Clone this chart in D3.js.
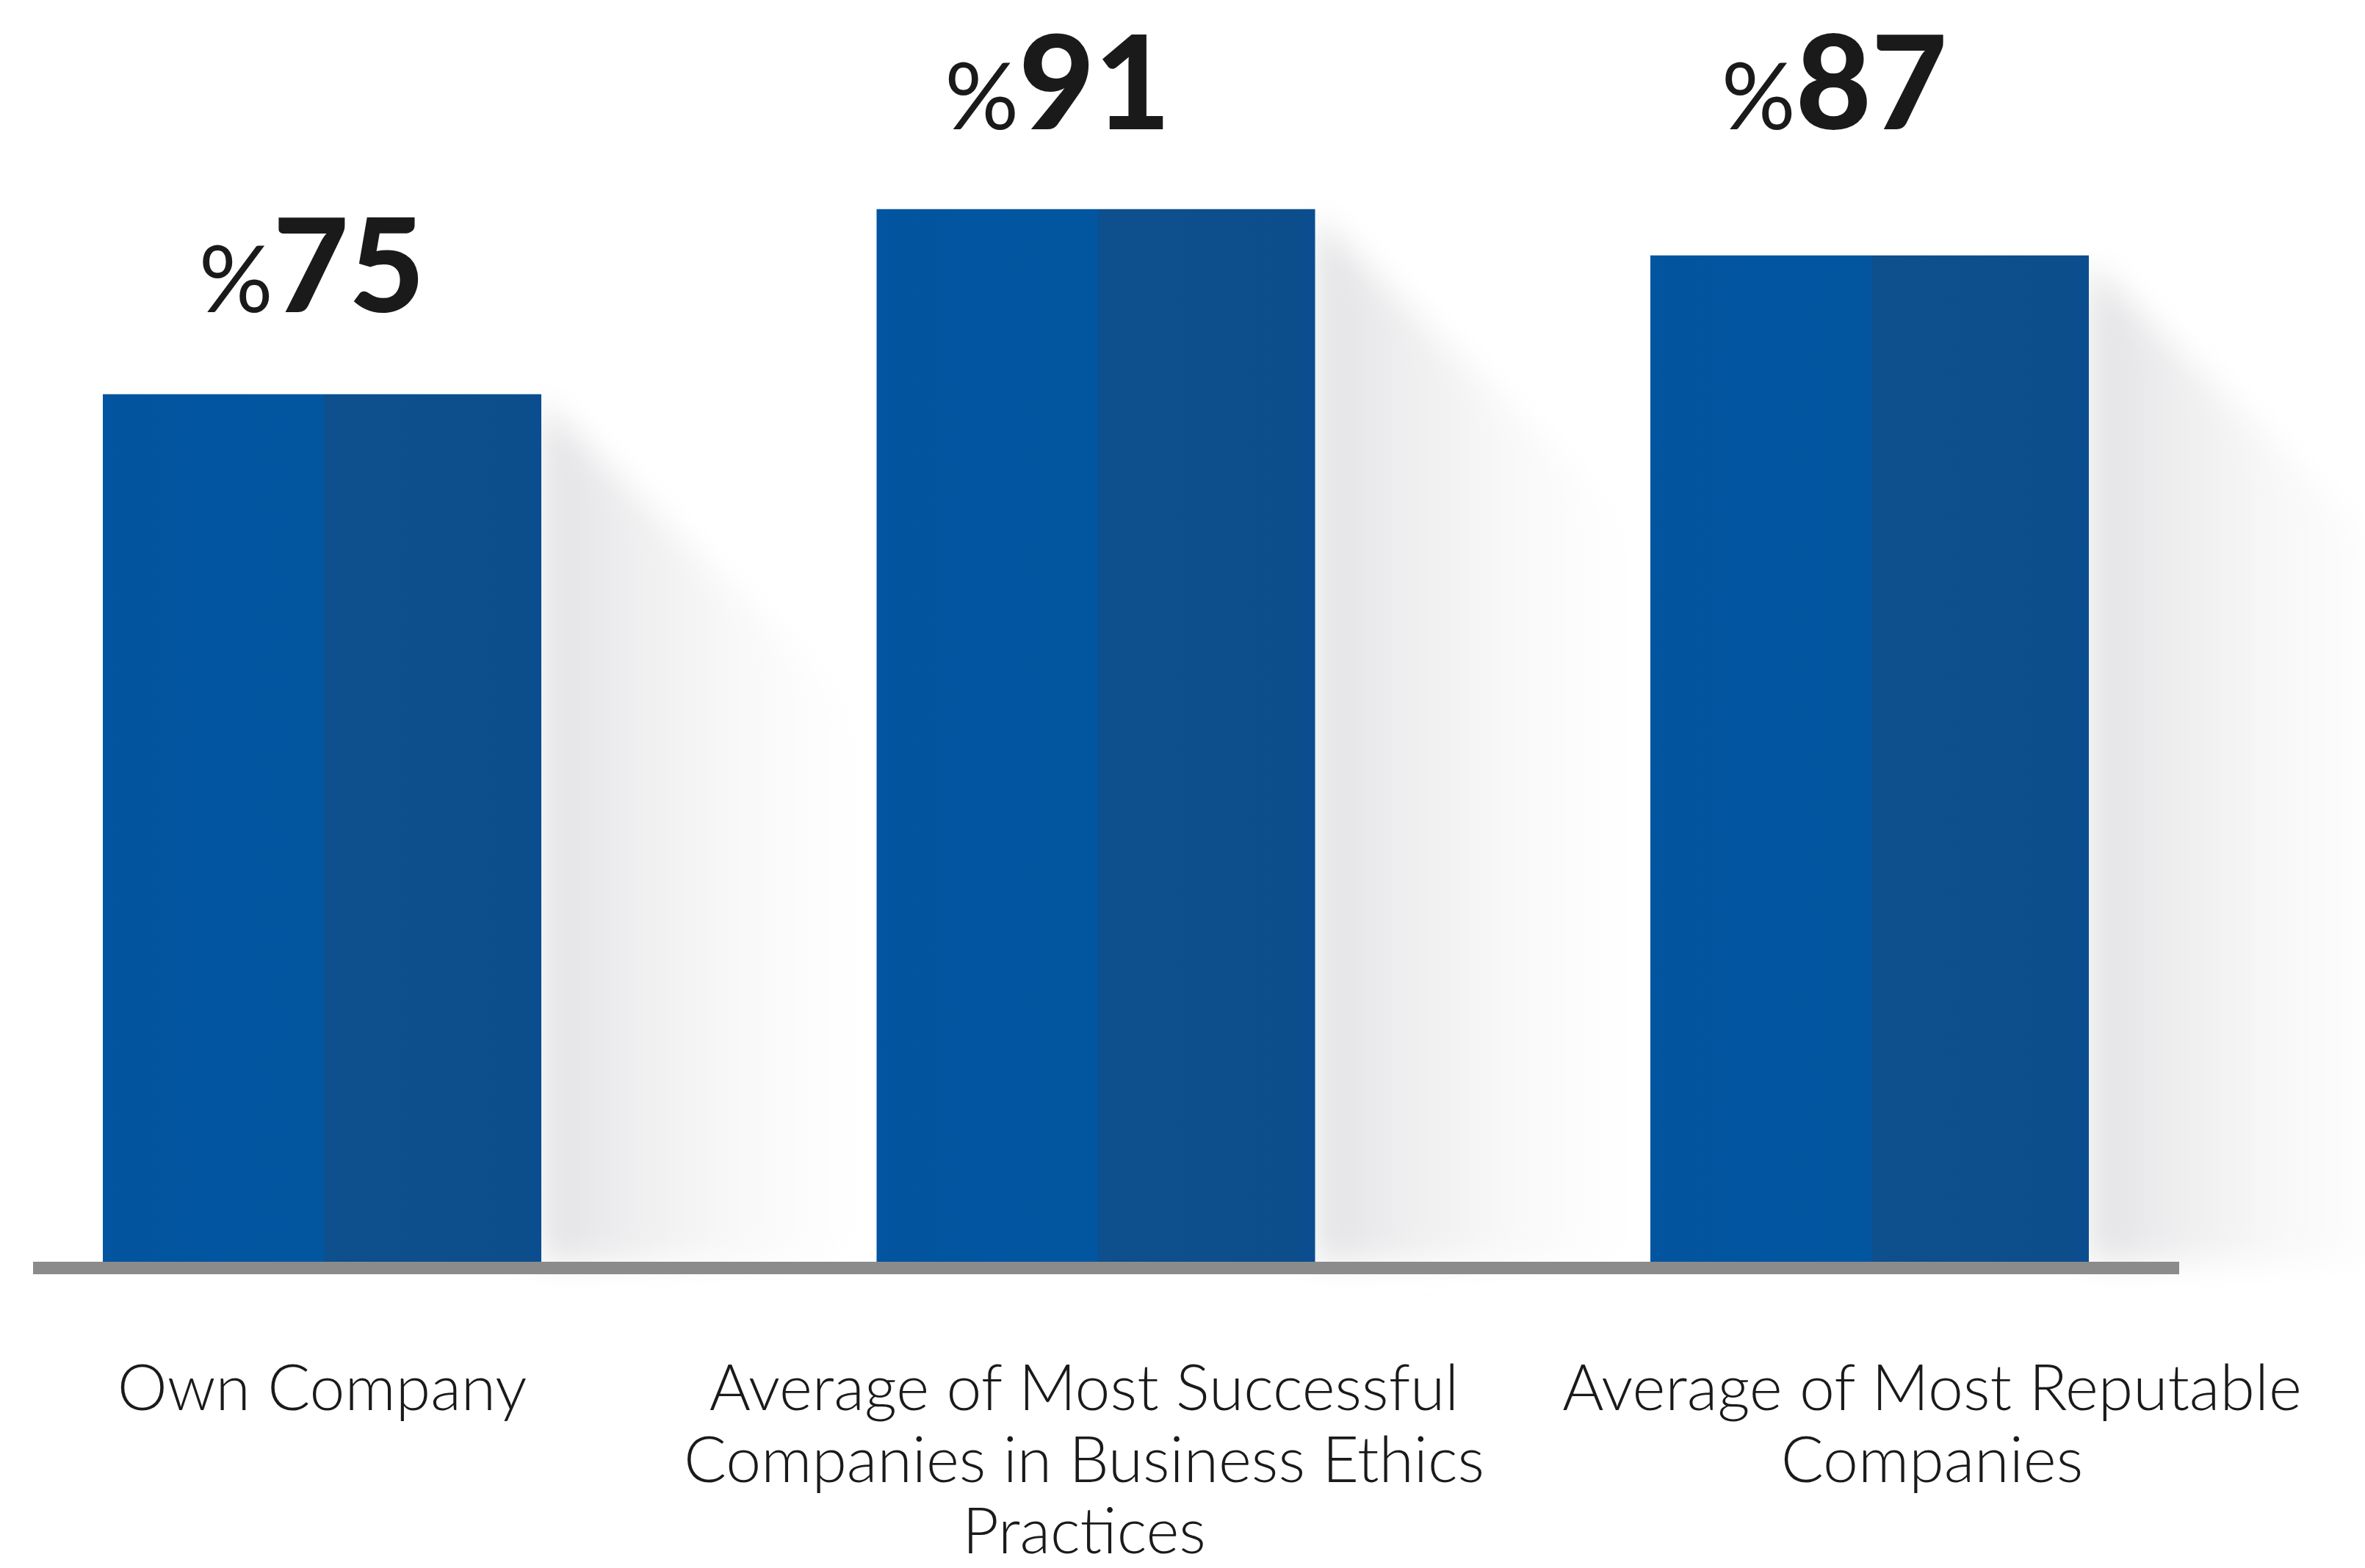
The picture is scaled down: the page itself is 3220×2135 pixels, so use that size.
<!DOCTYPE html>
<html>
<head>
<meta charset="utf-8">
<script src="https://cdn.jsdelivr.net/npm/d3@7"></script>
<style>
  html, body { margin: 0; padding: 0; background: #ffffff; }
  svg { display: block; }
</style>
</head>
<body>
<svg id="chart" width="3220" height="2135"></svg>
<script>
// Share of respondents, per comparison group
const categories = [
  "Own Company",
  "Average of Most Successful Companies in Business Ethics Practices",
  "Average of Most Reputable Companies"
];
const values = [75, 91, 87];
const categoryLines = [
  ["Own Company"],
  ["Average of Most Successful", "Companies in Business Ethics", "Practices"],
  ["Average of Most Reputable", "Companies"]
];
const valuePrefix = "%";

// layout nudges (px) for the label columns
const valueShift = [-14, -52, -48];
const captionShift = [0, -16, 85];

const svg = d3.select("#chart");

const x = d3.scaleBand()
  .domain(categories)
  .range([140, 2844])
  .paddingInner(0.4333)
  .paddingOuter(0);

const y = d3.scaleLinear().domain([0, 100]).range([1718, 143]);

const defs = svg.append("defs");

// two-tone bar face
const face = defs.append("linearGradient")
  .attr("id", "barFace").attr("x1", "0").attr("x2", "1").attr("y1", "0").attr("y2", "0");
face.append("stop").attr("offset", "0").attr("stop-color", "#0455a1");
face.append("stop").attr("offset", "0.04").attr("stop-color", "#02549f");
face.append("stop").attr("offset", "0.505").attr("stop-color", "#0256a0");
face.append("stop").attr("offset", "0.505").attr("stop-color", "#0e4f8d");
face.append("stop").attr("offset", "0.96").attr("stop-color", "#0c4e8c");
face.append("stop").attr("offset", "1").attr("stop-color", "#0a4d91");

// soft cast shadow to the right of each bar
const sh = defs.append("linearGradient")
  .attr("id", "shadowFill").attr("x1", "0").attr("x2", "1").attr("y1", "0").attr("y2", "0");
sh.append("stop").attr("offset", "0").attr("stop-color", "#dcdcdf").attr("stop-opacity", 0.85);
sh.append("stop").attr("offset", "0.35").attr("stop-color", "#e8e8ea").attr("stop-opacity", 0.6);
sh.append("stop").attr("offset", "1").attr("stop-color", "#f6f6f6").attr("stop-opacity", 0);

defs.append("filter").attr("id", "soften")
  .attr("x", "-20%").attr("y", "-20%").attr("width", "140%").attr("height", "140%")
  .append("feGaussianBlur").attr("stdDeviation", 22);

const base = y(0);
const reach = 460;

svg.append("g").selectAll("path")
  .data(values)
  .join("path")
  .attr("d", (v, i) => {
    const r = x(categories[i]) + x.bandwidth();
    const t = y(v);
    return `M${r},${t + 10} L${r + reach},${t + reach} L${r + reach},${base} L${r},${base} Z`;
  })
  .attr("fill", "url(#shadowFill)")
  .attr("filter", "url(#soften)");

// bars
svg.append("g").selectAll("rect")
  .data(values)
  .join("rect")
  .attr("x", (v, i) => x(categories[i]))
  .attr("y", v => y(v))
  .attr("width", x.bandwidth())
  .attr("height", v => base - y(v))
  .attr("fill", "url(#barFace)");

// baseline
svg.append("rect")
  .attr("x", x.range()[0] - 95)
  .attr("y", base)
  .attr("width", (x.range()[1] + 123) - (x.range()[0] - 95))
  .attr("height", 17)
  .attr("fill", "#8b8b8b");

// value labels above bars; labels close to the top share a common row
const topRow = 176;
const labelY = v => {
  const ly = y(v) - 112;
  return ly - topRow < 120 ? topRow : ly;
};
const vl = svg.append("g").selectAll("text")
  .data(values)
  .join("text")
  .attr("x", (v, i) => x(categories[i]) + x.bandwidth() / 2 + valueShift[i])
  .attr("y", labelY)
  .attr("text-anchor", "middle")
  .attr("fill", "#1a1a1a")
  .style("font-family", "Lato, 'Open Sans', sans-serif");
vl.append("tspan")
  .style("font-size", "126px").style("font-weight", 400)
  .text(valuePrefix);
vl.append("tspan")
  .style("font-size", "178px").style("font-weight", 900)
  .text(v => d3.format("d")(v));

// category labels under the axis
const cl = svg.append("g").selectAll("text")
  .data(categoryLines)
  .join("text")
  .attr("x", (lines, i) => x(categories[i]) + x.bandwidth() / 2 + captionShift[i])
  .attr("y", 1920)
  .attr("text-anchor", "middle")
  .attr("fill", "#1a1a1a")
  .style("font-family", "Lato, 'Open Sans', sans-serif")
  .style("font-weight", 300)
  .style("font-size", "86px");
cl.selectAll("tspan")
  .data(d => d)
  .join("tspan")
  .attr("x", function () { return this.parentNode.getAttribute("x"); })
  .attr("dy", (d, j) => j === 0 ? 0 : 97.5)
  .text(d => d);
</script>
</body>
</html>
